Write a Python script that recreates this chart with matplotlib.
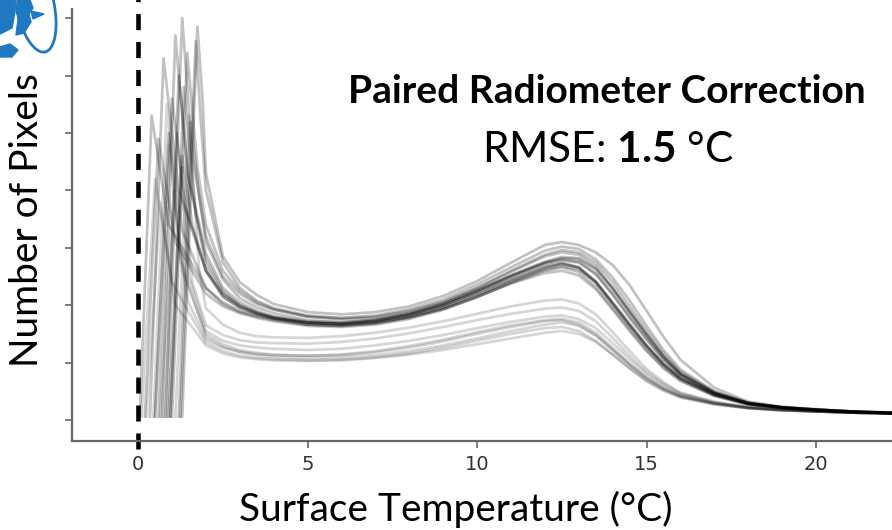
import matplotlib.pyplot as plt
from matplotlib.patches import Ellipse, Polygon

plt.rcParams['font.family'] = ['Lato', 'DejaVu Sans']
plt.rcParams['mathtext.fontset'] = 'custom'
plt.rcParams['mathtext.rm'] = 'Lato'
plt.rcParams['mathtext.bf'] = 'Lato:bold'

# common temperature grid for the body of every histogram (deg C)
body_x = [2.0, 2.5, 3.0, 3.5, 4.0, 5, 6, 7, 8, 9, 10, 11, 12, 12.5, 13,
          13.5, 14, 14.5, 15, 15.5, 16, 17, 18, 19, 20, 21, 22.3]

# head of each curve: foot of the steep rise, the peak, one point on the fall
upper_start = [0.05, 0.35, 0.85, 1.3, 0.8, 0.6, 0.2, 1.0, 1.2, 0.7, 0.95, 1.25, 0.5, 0.9]
upper_peak_x = [0.4, 0.75, 1.3, 1.75, 1.2, 1.0, 0.6, 1.45, 1.55, 1.1, 1.35, 1.7, 0.9, 1.3]
upper_peak_y = [5.3, 6.3, 7.0, 6.85, 6.0, 5.6, 4.9, 6.4, 5.2, 6.7, 5.8, 6.6, 5.0, 4.6]
upper_drop_x = [0.9, 1.2, 1.6, 1.9, 1.5, 1.4, 1.1, 1.75, 1.8, 1.45, 1.7, 1.85, 1.3, 1.6]
upper_drop_y = [3.4, 4.0, 4.6, 5.6, 4.2, 3.7, 3.1, 4.4, 3.9, 4.3, 3.6, 5.2, 3.3, 3.4]

upper_body = [
    [2.3, 2.05, 1.9, 1.82, 1.76, 1.70, 1.68, 1.73, 1.84, 2.00, 2.22, 2.46, 2.68, 2.74, 2.66, 2.40, 2.02, 1.64, 1.28, 0.96, 0.72, 0.44, 0.28, 0.21, 0.17, 0.14, 0.12],
    [2.6, 2.2, 2.0, 1.88, 1.80, 1.72, 1.70, 1.75, 1.86, 2.03, 2.26, 2.52, 2.74, 2.80, 2.76, 2.55, 2.18, 1.78, 1.40, 1.05, 0.78, 0.46, 0.29, 0.22, 0.18, 0.15, 0.12],
    [3.2, 2.5, 2.2, 2.02, 1.92, 1.80, 1.77, 1.80, 1.90, 2.06, 2.30, 2.58, 2.85, 2.92, 2.88, 2.68, 2.30, 1.88, 1.48, 1.10, 0.80, 0.47, 0.30, 0.22, 0.18, 0.15, 0.12],
    [4.3, 2.85, 2.4, 2.18, 2.02, 1.88, 1.84, 1.88, 1.98, 2.16, 2.42, 2.74, 3.05, 3.10, 3.05, 2.92, 2.70, 2.35, 1.90, 1.45, 1.05, 0.56, 0.32, 0.23, 0.19, 0.15, 0.13],
    [2.9, 2.3, 2.05, 1.90, 1.80, 1.70, 1.66, 1.70, 1.80, 1.96, 2.18, 2.42, 2.62, 2.68, 2.62, 2.40, 2.05, 1.68, 1.30, 0.98, 0.73, 0.45, 0.28, 0.21, 0.17, 0.14, 0.12],
    [2.6, 2.15, 1.95, 1.84, 1.76, 1.66, 1.64, 1.68, 1.78, 1.93, 2.14, 2.38, 2.60, 2.66, 2.58, 2.32, 1.95, 1.58, 1.22, 0.92, 0.69, 0.42, 0.27, 0.21, 0.17, 0.14, 0.12],
    [2.2, 1.98, 1.86, 1.78, 1.72, 1.64, 1.62, 1.66, 1.76, 1.92, 2.14, 2.40, 2.64, 2.72, 2.66, 2.42, 2.04, 1.66, 1.30, 0.98, 0.73, 0.44, 0.28, 0.21, 0.17, 0.14, 0.12],
    [3.4, 2.6, 2.25, 2.05, 1.93, 1.80, 1.75, 1.78, 1.88, 2.05, 2.30, 2.60, 2.88, 2.96, 2.92, 2.74, 2.40, 1.98, 1.56, 1.16, 0.84, 0.49, 0.30, 0.22, 0.18, 0.15, 0.12],
    [3.1, 2.45, 2.12, 1.96, 1.86, 1.74, 1.70, 1.74, 1.84, 2.00, 2.24, 2.50, 2.72, 2.78, 2.74, 2.54, 2.20, 1.80, 1.42, 1.06, 0.78, 0.46, 0.29, 0.22, 0.18, 0.14, 0.12],
    [2.8, 2.25, 2.0, 1.86, 1.77, 1.68, 1.67, 1.72, 1.83, 2.00, 2.24, 2.50, 2.74, 2.82, 2.80, 2.62, 2.28, 1.88, 1.48, 1.10, 0.80, 0.47, 0.29, 0.22, 0.18, 0.15, 0.12],
    [2.7, 2.2, 1.98, 1.86, 1.78, 1.69, 1.66, 1.70, 1.79, 1.94, 2.15, 2.38, 2.56, 2.60, 2.52, 2.28, 1.92, 1.55, 1.20, 0.90, 0.68, 0.42, 0.27, 0.21, 0.17, 0.14, 0.12],
    [4.0, 2.75, 2.3, 2.08, 1.95, 1.82, 1.78, 1.82, 1.93, 2.10, 2.36, 2.66, 2.95, 3.02, 2.98, 2.80, 2.48, 2.08, 1.64, 1.22, 0.88, 0.50, 0.30, 0.22, 0.18, 0.15, 0.13],
    [2.3, 2.02, 1.88, 1.80, 1.74, 1.66, 1.64, 1.69, 1.80, 1.96, 2.19, 2.44, 2.66, 2.72, 2.65, 2.40, 2.02, 1.64, 1.28, 0.96, 0.72, 0.44, 0.28, 0.21, 0.17, 0.14, 0.12],
    [2.6, 2.15, 1.96, 1.85, 1.78, 1.70, 1.68, 1.73, 1.84, 2.02, 2.26, 2.52, 2.76, 2.84, 2.82, 2.64, 2.30, 1.90, 1.50, 1.12, 0.82, 0.48, 0.29, 0.22, 0.18, 0.15, 0.12],
]

lower_start = [0.1, 0.5, 0.75, 0.25, 0.95, 0.45, 0.65, 1.1]
lower_peak_x = [0.5, 0.9, 1.15, 0.65, 1.3, 0.85, 1.05, 1.5]
lower_peak_y = [4.2, 4.8, 5.0, 3.8, 4.4, 5.5, 4.0, 5.3]
lower_drop_x = [1.0, 1.3, 1.5, 1.1, 1.6, 1.25, 1.45, 1.8]
lower_drop_y = [2.4, 2.6, 2.5, 2.0, 2.4, 2.8, 2.1, 2.6]

lower_body = [
    [1.35, 1.2, 1.12, 1.08, 1.06, 1.04, 1.05, 1.09, 1.16, 1.26, 1.38, 1.50, 1.60, 1.62, 1.55, 1.38, 1.14, 0.90, 0.68, 0.52, 0.40, 0.28, 0.21, 0.17, 0.15, 0.13, 0.11],
    [1.5, 1.32, 1.22, 1.17, 1.14, 1.12, 1.13, 1.18, 1.26, 1.37, 1.50, 1.62, 1.72, 1.74, 1.66, 1.48, 1.22, 0.96, 0.73, 0.55, 0.42, 0.29, 0.21, 0.17, 0.15, 0.13, 0.11],
    [1.55, 1.38, 1.30, 1.26, 1.24, 1.22, 1.24, 1.30, 1.38, 1.48, 1.60, 1.71, 1.80, 1.82, 1.76, 1.60, 1.34, 1.06, 0.80, 0.60, 0.45, 0.30, 0.22, 0.18, 0.15, 0.13, 0.11],
    [1.3, 1.16, 1.09, 1.06, 1.04, 1.03, 1.04, 1.08, 1.14, 1.22, 1.32, 1.42, 1.52, 1.55, 1.50, 1.36, 1.14, 0.90, 0.68, 0.51, 0.39, 0.27, 0.20, 0.17, 0.15, 0.13, 0.11],
    [1.65, 1.48, 1.39, 1.35, 1.34, 1.33, 1.36, 1.42, 1.51, 1.62, 1.74, 1.85, 1.94, 1.96, 1.90, 1.72, 1.43, 1.12, 0.84, 0.63, 0.46, 0.31, 0.22, 0.18, 0.15, 0.13, 0.11],
    [1.45, 1.28, 1.18, 1.13, 1.10, 1.08, 1.09, 1.13, 1.20, 1.30, 1.42, 1.55, 1.66, 1.70, 1.64, 1.47, 1.22, 0.96, 0.72, 0.54, 0.41, 0.28, 0.21, 0.17, 0.15, 0.13, 0.11],
    [1.4, 1.26, 1.19, 1.15, 1.13, 1.12, 1.14, 1.20, 1.29, 1.40, 1.53, 1.65, 1.74, 1.76, 1.70, 1.52, 1.26, 0.99, 0.75, 0.56, 0.42, 0.29, 0.21, 0.17, 0.15, 0.13, 0.11],
    [1.95, 1.66, 1.52, 1.46, 1.44, 1.43, 1.46, 1.52, 1.61, 1.72, 1.85, 1.98, 2.08, 2.10, 2.03, 1.84, 1.53, 1.20, 0.89, 0.66, 0.48, 0.32, 0.23, 0.18, 0.15, 0.13, 0.11],
]

foot_y = 0.06
x_ticks = [0, 5, 10, 15, 20]
y_ticks = [0, 1, 2, 3, 4, 5, 6, 7]

fig = plt.figure(figsize=(8.92, 5.30), dpi=100)
ax = fig.add_axes([72 / 892, 89 / 530, 820 / 892, 432 / 530])


def draw_group(starts, pxs, pys, dxs, dys, bodies, alpha):
    for x0, px, py, dx, dy, body in zip(starts, pxs, pys, dxs, dys, bodies):
        xs = [x0, px, dx] + body_x
        ys = [foot_y, py, dy] + body
        ax.plot(xs, ys, color='black', alpha=alpha, lw=2.0, solid_joinstyle='round')


draw_group(upper_start, upper_peak_x, upper_peak_y, upper_drop_x, upper_drop_y, upper_body, 0.24)
draw_group(lower_start, lower_peak_x, lower_peak_y, lower_drop_x, lower_drop_y, lower_body, 0.16)

# dashed line at 0 deg C, running past the axes
ax.plot([0, 0], [-0.5, 7.6], color='black', lw=3.3, ls=(0, (3.5, 2.6)), clip_on=False)

ax.set_xlim(-1.95, 22.24)
ax.set_ylim(-0.366, 7.16)
ax.set_xticks(x_ticks)
ax.set_yticks(y_ticks)
ax.set_yticklabels([])
for side in ['top', 'right']:
    ax.spines[side].set_visible(False)
for side in ['left', 'bottom']:
    ax.spines[side].set_color('#666666')
    ax.spines[side].set_linewidth(1.6)
ax.tick_params(colors='#666666', length=5, width=1.2, labelcolor='#333333',
               labelsize=14, labelfontfamily='DejaVu Sans', pad=5)

# labels and annotation
fig.text(456 / 892, 9 / 530, 'Surface Temperature (°C)', ha='center', va='baseline', fontsize=28)
fig.text(27 / 892, (530 - 220) / 530, 'Number of Pixels', rotation=90, ha='center', va='center',
         fontsize=28)
fig.text(607 / 892, (530 - 103) / 530, 'Paired Radiometer Correction', ha='center', va='baseline',
         fontsize=28, fontweight='bold')
fig.text(608 / 892, (530 - 162) / 530, r'RMSE: $\mathbf{1.5}$ °C', ha='center', va='baseline',
         fontsize=30.5)

# partial logo in the top-left corner
ov = fig.add_axes([0, 0, 1, 1])
ov.set_xlim(0, 892)
ov.set_ylim(530, 0)
ov.axis('off')
blue = '#1f78c1'
ov.add_patch(Ellipse((35, 5), 38, 96, angle=-12, fill=False, ec=blue, lw=2))
ov.add_patch(Polygon([(0, 0), (13, 0), (15, 12), (12, 28), (0, 34)], color=blue))
ov.add_patch(Polygon([(17, 0), (30, 0), (33, 8), (29, 14), (31, 22), (24, 33), (16, 35), (18, 20)], color=blue))
ov.add_patch(Polygon([(31, 11), (44, 14), (33, 19)], color=blue))
ov.add_patch(Polygon([(0, 47), (10, 44), (18, 50), (12, 57), (0, 57)], color=blue))

plt.savefig('out.png', dpi=100)
